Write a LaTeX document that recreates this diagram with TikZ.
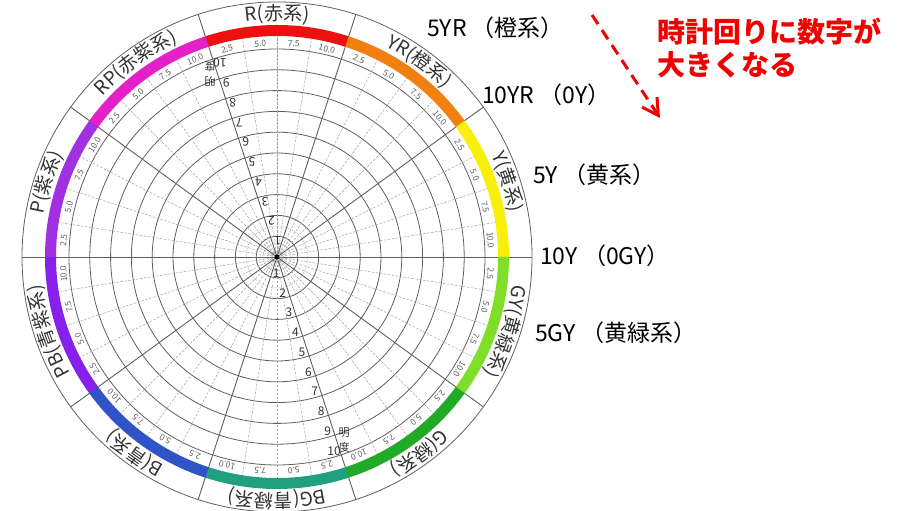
\documentclass[tikz,border=0pt]{standalone}
\usepackage{fontspec}
\setmainfont{Noto Sans CJK JP}
\usetikzlibrary{arrows.meta,calc,decorations.text}

\definecolor{cR}{RGB}{238,16,16}
\definecolor{cYR}{RGB}{242,128,16}
\definecolor{cY}{RGB}{248,240,10}
\definecolor{cGY}{RGB}{128,222,40}
\definecolor{cG}{RGB}{32,170,40}
\definecolor{cBG}{RGB}{32,160,128}
\definecolor{cB}{RGB}{48,84,200}
\definecolor{cPB}{RGB}{136,32,236}
\definecolor{cP}{RGB}{160,48,224}
\definecolor{cRP}{RGB}{228,32,200}
\definecolor{gridink}{RGB}{95,95,95}
\definecolor{hueink}{RGB}{50,50,50}
\definecolor{arrowred}{RGB}{240,0,0}

\newcommand*{\huesize}{\fontsize{19pt}{19pt}\selectfont\color{hueink}}
\newcommand*{\huename}[2]{%
  \path[decorate, decoration={text along path, text={|\huesize|#2}, text align=center}]
    (#1+32:237pt) arc[start angle=#1+32, end angle=#1-32, radius=237pt];}

\begin{document}
\begin{tikzpicture}[x=1pt, y=1pt,
  chromaring/.style={draw=gridink, line width=0.8pt},
  halfring/.style={draw=gridink!60, line width=0.5pt, dash pattern=on 1pt off 1pt},
  huebound/.style={draw=gridink, line width=0.9pt},
  huetick/.style={draw=gridink!60, line width=0.5pt, dash pattern=on 2.5pt off 1.5pt},
  hueticklabel/.style={font=\fontsize{8.5pt}{8.5pt}\selectfont, text=gridink, inner sep=0pt},
  vallabel/.style={font=\fontsize{12pt}{12pt}\selectfont, text=hueink, inner sep=0pt},
  valtitle/.style={font=\fontsize{11pt}{15pt}\selectfont, text=hueink, inner sep=0pt, align=center},
  sidelabel/.style={font=\fontsize{23pt}{23pt}\selectfont, anchor=west, inner sep=0pt},
  notelabel/.style={font=\bfseries\fontsize{28pt}{28pt}\selectfont, text=arrowred, anchor=west, inner sep=0pt},
  turnarrow/.style={draw=arrowred, line width=3pt, dash pattern=on 11pt off 7pt, -{Straight Barb[length=16pt, width=18pt]}}
]
\useasboundingbox (0,0) rectangle (910,511);

\begin{scope}[shift={(277,254)}]
	% chroma circles
	\foreach \k in {1,...,10}
		\draw[chromaring] (0,0) circle[radius=\k*20.8pt];
	\foreach \r in {7,14,31}
		\draw[halfring] (0,0) circle[radius=\r pt];

	% hue lines
	\foreach \s in {0,36,...,324}{
		\foreach \d in {9,18,27}
			\draw[huetick] (0,0) -- (\s+\d:221);
		\draw[huebound] (0,0) -- (\s:255);
	}
	\draw[chromaring] (0,0) circle[radius=255pt];
	\fill[black] (0,0) circle[radius=2.5pt];

	% colour band
	\foreach \c/\col in {90/cR, 54/cYR, 18/cY, -18/cGY, -54/cG, -90/cBG, -126/cB, -162/cPB, -198/cP, -234/cRP}
		\fill[\col] (\c+18:221) arc[start angle=\c+18, end angle=\c-18, radius=221pt]
			-- (\c-18:232) arc[start angle=\c-18, end angle=\c+18, radius=232pt] -- cycle;

	% hue steps
	\foreach \c [count=\i] in {90,54,18,-18,-54,-90,-126,-162,-198,-234}
		\foreach \o/\t [count=\j] in {13.5/2.5, 4.5/5.0, -4.5/7.5, -13.5/10.0}
			\node[hueticklabel, rotate=\c+\o-90] (tick\i-\j) at (\c+\o:214) {\t};

	% hue names
	\huename{90}{R(赤系)}
	\huename{54}{YR(橙系)}
	\huename{18}{Y(黄系)}
	\huename{-18}{GY(黄緑系)}
	\huename{-54}{G(緑系)}
	\huename{-90}{BG(青緑系)}
	\huename{-126}{B(青系)}
	\huename{-162}{PB(青紫系)}
	\huename{-198}{P(紫系)}
	\huename{-234}{RP(赤紫系)}

	% value scale
	\foreach \ang/\side in {0/down,180/up}{
		\begin{scope}[rotate=\ang, transform shape]
			\foreach \k in {1,...,10}
				\node[vallabel] (val\side\k) at ($(-72:{\k*20.8-4})+(-6,0)$) {\k};
			\node[valtitle] (valtitle\side) at (67,-183) {明\\度};
		\end{scope}
	}
\end{scope}

\node[sidelabel] (l5yr) at (427,483) {5YR （橙系）};
\node[sidelabel] (l10yr) at (482,416) {10YR （0Y）};
\node[sidelabel] (l5y) at (533,336) {5Y （黄系）};
\node[sidelabel] (l10y) at (540,255) {10Y （0GY）};
\node[sidelabel] (l5gy) at (535,178) {5GY （黄緑系）};

\node[notelabel] (note1) at (657,479) {時計回りに数字が};
\node[notelabel] (note2) at (657,446) {大きくなる};

\coordinate (arrowtail) at (592,496);
\coordinate (arrowtip) at (660,393);
\draw[turnarrow] (arrowtail) -- (arrowtip);

\end{tikzpicture}
\end{document}
